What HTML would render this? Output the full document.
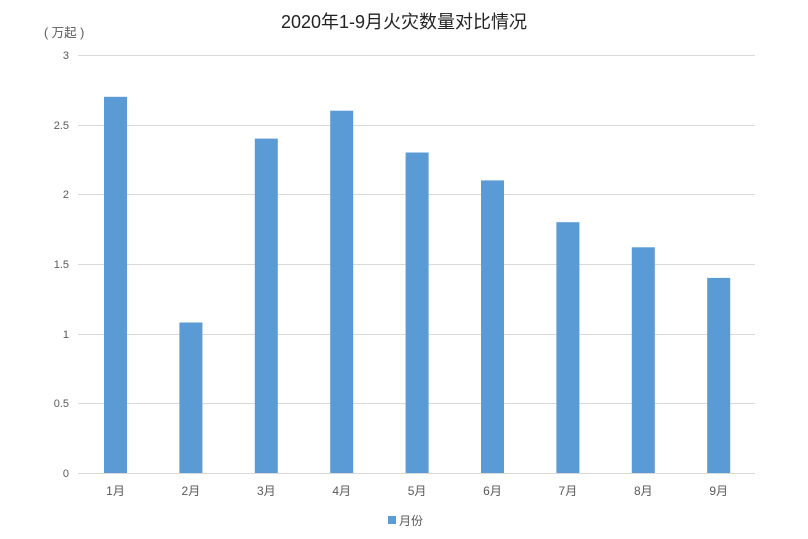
<!DOCTYPE html>
<html><head><meta charset="utf-8"><style>
html,body{margin:0;padding:0;background:#fff;}
svg text{font-family:"Liberation Sans","Noto Sans CJK SC",sans-serif;}
</style></head><body>
<svg width="808" height="534" viewBox="0 0 808 534" xmlns="http://www.w3.org/2000/svg">
<rect width="808" height="534" fill="#fff"/>
<text x="404" y="28" font-size="18" fill="#222" text-anchor="middle">2020年1-9月火灾数量对比情况</text>
<text x="44" y="37" font-size="12.5" fill="#595959">( 万起 )</text>
<g stroke="#d9d9d9" stroke-width="1">
<line x1="78" y1="55.5" x2="755" y2="55.5"/>
<line x1="78" y1="125.5" x2="755" y2="125.5"/>
<line x1="78" y1="194.5" x2="755" y2="194.5"/>
<line x1="78" y1="264.5" x2="755" y2="264.5"/>
<line x1="78" y1="334.5" x2="755" y2="334.5"/>
<line x1="78" y1="403.5" x2="755" y2="403.5"/>
<line x1="78" y1="473.5" x2="755" y2="473.5"/>
</g>
<g font-size="11" fill="#595959" text-anchor="end">
<text x="69" y="59">3</text>
<text x="69" y="129">2.5</text>
<text x="69" y="198">2</text>
<text x="69" y="268">1.5</text>
<text x="69" y="338">1</text>
<text x="69" y="407">0.5</text>
<text x="69" y="477">0</text>
</g>
<g fill="#5b9bd5">
<rect x="104" y="96.8" width="23" height="376.2"/>
<rect x="179.4" y="322.5" width="23" height="150.5"/>
<rect x="254.8" y="138.6" width="23" height="334.4"/>
<rect x="330.2" y="110.7" width="23" height="362.3"/>
<rect x="405.6" y="152.5" width="23" height="320.5"/>
<rect x="481" y="180.4" width="23" height="292.6"/>
<rect x="556.4" y="222.2" width="23" height="250.8"/>
<rect x="631.8" y="247.3" width="23" height="225.7"/>
<rect x="707.2" y="277.9" width="23" height="195.1"/>
</g>
<g font-size="12" fill="#595959" text-anchor="middle">
<text x="115.5" y="495">1月</text>
<text x="190.9" y="495">2月</text>
<text x="266.3" y="495">3月</text>
<text x="341.7" y="495">4月</text>
<text x="417.1" y="495">5月</text>
<text x="492.5" y="495">6月</text>
<text x="567.9" y="495">7月</text>
<text x="643.3" y="495">8月</text>
<text x="718.7" y="495">9月</text>
</g>
<rect x="388" y="516" width="8" height="8" fill="#5b9bd5"/>
<text x="399" y="525" font-size="12" fill="#595959">月份</text>
</svg>
</body></html>
